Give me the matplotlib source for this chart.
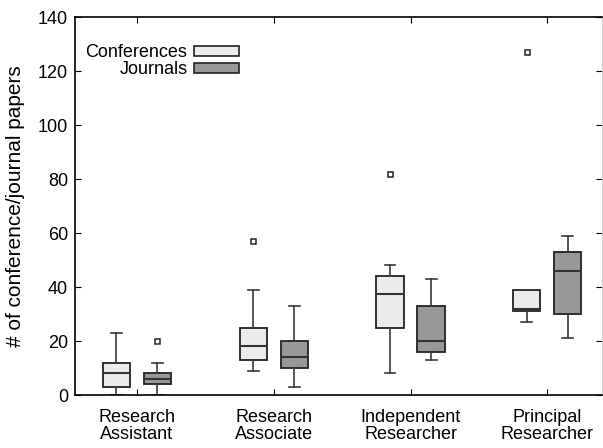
"""Boxplot of conference/journal paper counts per research position."""
import matplotlib

matplotlib.use("Agg")
import matplotlib.pyplot as plt
from matplotlib.patches import Patch

plt.rcParams["font.family"] = ["Liberation Sans", "DejaVu Sans"]

positions = ["Research\nAssistant", "Research\nAssociate",
             "Independent\nResearcher", "Principal\nResearcher"]

# five-number summaries: whislo, q1, med, q3, whishi
conf_stats = [
    [0, 3, 8, 12, 23],
    [9, 13, 18, 25, 39],
    [8, 25, 37.5, 44, 48],
    [27, 31, 32, 39, 39],
]
conf_fliers = [[], [57], [82], [127]]

jour_stats = [
    [0, 4, 6, 8, 12],
    [3, 10, 14, 20, 33],
    [13, 16, 20, 33, 43],
    [21, 30, 46, 53, 59],
]
jour_fliers = [[20], [], [], []]


def _to_bxp(stats, fliers):
    out = []
    for (lo, q1, med, q3, hi), fl in zip(stats, fliers):
        out.append(dict(whislo=lo, q1=q1, med=med, q3=q3, whishi=hi, fliers=fl))
    return out


fig = plt.figure(figsize=(6.03, 4.48), dpi=100)
ax = fig.add_axes([75 / 603, 53 / 448, 527 / 603, 378 / 448])

xs = list(range(1, len(positions) + 1))
off = 0.15
common = dict(
    widths=0.2,
    capwidths=0.08,
    patch_artist=True,
    whiskerprops=dict(color="#3a3a3a", lw=1.2),
    capprops=dict(color="#3a3a3a", lw=1.2),
    medianprops=dict(color="#333333", lw=1.5),
    flierprops=dict(marker="s", markersize=3.6, markerfacecolor="white",
                    markeredgecolor="#222222", markeredgewidth=1.1),
)

ax.bxp(_to_bxp(conf_stats, conf_fliers), positions=[x - off for x in xs],
       boxprops=dict(facecolor="#ebecea", edgecolor="#222222", lw=1.3),
       **common)
ax.bxp(_to_bxp(jour_stats, jour_fliers), positions=[x + off for x in xs],
       boxprops=dict(facecolor="#989898", edgecolor="#222222", lw=1.3),
       **common)

ax.set_xlim(0.547, 4.40)
ax.set_ylim(0, 140)
ax.set_xticks(xs)
ax.set_xticklabels(positions, fontsize=13, linespacing=1.0)
ax.set_yticks(range(0, 141, 20))
ax.tick_params(axis="y", labelsize=13, direction="in", length=4, right=True,
               pad=5)
ax.tick_params(axis="x", direction="in", length=4, top=True, pad=10)
ax.set_ylabel("# of conference/journal papers", fontsize=15, labelpad=9)

for side in ("left", "bottom", "top"):
    ax.spines[side].set_linewidth(1.2)
ax.spines["right"].set_color("#cccccc")

handles = [
    Patch(facecolor="#ebecea", edgecolor="#222222", lw=1.2),
    Patch(facecolor="#989898", edgecolor="#222222", lw=1.2),
]
ax.legend(handles, ["Conferences", "Journals"], loc="upper left",
          bbox_to_anchor=(-0.004, 0.961), frameon=False, markerfirst=False,
          fontsize=13, handlelength=2.5, handleheight=0.45,
          labelspacing=0.0, handletextpad=0.35, borderaxespad=0.3)

fig.savefig("out.png", dpi=100)
plt.close(fig)
